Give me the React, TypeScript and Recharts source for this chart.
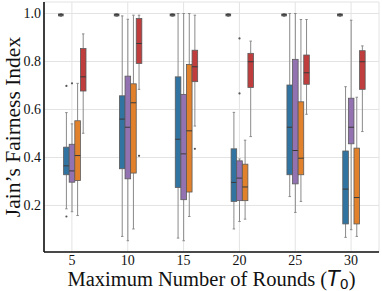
import React from 'react';
import { ComposedChart, Bar, XAxis, YAxis, CartesianGrid } from 'recharts';

const categories = ['5', '10', '15', '20', '25', '30'];
const yTicks = [0.2, 0.4, 0.6, 0.8, 1.0];

// [lower whisker, Q1, median, Q3, upper whisker]
const grayStats = [
  [0.988, 0.99, 0.995, 0.998, 1.0],
  [0.988, 0.99, 0.995, 0.998, 1.0],
  [0.988, 0.99, 0.995, 0.998, 1.0],
  [0.988, 0.99, 0.995, 0.998, 1.0],
  [0.988, 0.99, 0.995, 0.998, 1.0],
  [0.988, 0.99, 0.995, 0.998, 1.0],
];
const blueStats = [
  [0.186, 0.328, 0.365, 0.443, 0.587],
  [0.071, 0.353, 0.56, 0.657, 0.99],
  [0.064, 0.275, 0.476, 0.736, 1.0],
  [0.102, 0.217, 0.296, 0.436, 0.588],
  [0.237, 0.328, 0.526, 0.702, 1.0],
  [0.067, 0.123, 0.268, 0.427, 0.695],
];
const purpleStats = [
  [0.174, 0.297, 0.344, 0.455, 0.54],
  [0.053, 0.311, 0.526, 0.739, 0.976],
  [0.053, 0.224, 0.415, 0.663, 1.0],
  [0.133, 0.22, 0.314, 0.386, 0.394],
  [0.171, 0.29, 0.429, 0.809, 1.0],
  [0.099, 0.457, 0.526, 0.647, 0.972],
];
const orangeStats = [
  [0.158, 0.304, 0.408, 0.553, 0.709],
  [0.102, 0.335, 0.628, 0.707, 0.993],
  [0.154, 0.256, 0.511, 0.788, 1.0],
  [0.143, 0.22, 0.277, 0.372, 0.472],
  [0.217, 0.328, 0.397, 0.632, 0.975],
  [0.071, 0.123, 0.233, 0.439, 0.651],
];
const redStats = [
  [0.501, 0.677, 0.736, 0.854, 0.915],
  [0.684, 0.792, 0.875, 0.979, 0.993],
  [0.531, 0.716, 0.778, 0.847, 0.993],
  [0.487, 0.692, 0.799, 0.834, 0.885],
  [0.58, 0.705, 0.753, 0.827, 0.975],
  [0.508, 0.684, 0.799, 0.845, 0.865],
];

const grayOutliers = [[], [], [], [], [], []];
const blueOutliers = [[0.154, 0.698], [], [], [], [], []];
const purpleOutliers = [[0.709], [], [], [0.896, 0.667], [], []];
const orangeOutliers = [[], [], [], [], [], []];
const redOutliers = [[], [0.407], [0.436], [], [], []];

type Series = { key: string; stats: number[][]; outliers: number[][]; fill: string; narrow?: boolean };

const series: Series[] = [
  { key: 'gray', stats: grayStats, outliers: grayOutliers, fill: '#5c5c5c', narrow: true },
  { key: 'blue', stats: blueStats, outliers: blueOutliers, fill: '#3274a1' },
  { key: 'purple', stats: purpleStats, outliers: purpleOutliers, fill: '#9372b2' },
  { key: 'orange', stats: orangeStats, outliers: orangeOutliers, fill: '#e1812c' },
  { key: 'red', stats: redStats, outliers: redOutliers, fill: '#c03d3e' },
];

const data = categories.map((c, i) => {
  const row: any = { cat: c };
  series.forEach((s) => {
    row[s.key] = [s.stats[i][0], s.stats[i][4]];
  });
  return row;
});

const font = 'Liberation Serif, Times New Roman, serif';

function makeShape(s: Series) {
  return (props: any) => {
    const { x, y, width, height, index } = props;
    const [lo, q1, med, q3, hi] = s.stats[index];
    const top = Math.min(y, y + height);
    const bottom = Math.max(y, y + height);
    const py = (v: number) => top + ((bottom - top) * (hi - v)) / (hi - lo);
    const cx = x + width / 2;
    const cap = width * 0.22;
    const wc = '#8a8a8a';
    const bw = s.narrow ? width * 0.85 : width;
    const bx = cx - bw / 2;
    return (
      <g>
        <line x1={cx} x2={cx} y1={py(hi)} y2={py(q3)} stroke={wc} strokeWidth={1} />
        <line x1={cx} x2={cx} y1={py(q1)} y2={py(lo)} stroke={wc} strokeWidth={1} />
        <line x1={cx - cap} x2={cx + cap} y1={py(hi)} y2={py(hi)} stroke={wc} strokeWidth={1} />
        <line x1={cx - cap} x2={cx + cap} y1={py(lo)} y2={py(lo)} stroke={wc} strokeWidth={1} />
        <rect
          x={bx}
          y={py(q3)}
          width={bw}
          height={Math.max(py(q1) - py(q3), 0.5)}
          fill={s.fill}
          stroke="#5a5a5a"
          strokeWidth={0.8}
        />
        <line x1={bx} x2={bx + bw} y1={py(med)} y2={py(med)} stroke="#3a3a3a" strokeWidth={1} />
        {s.outliers[index].map((v, k) => (
          <circle key={k} cx={cx} cy={py(v)} r={1.1} fill="#555" />
        ))}
      </g>
    );
  };
}

const XLabel = (p: any) => {
  const vb = p.viewBox;
  const cx = vb.x + vb.width / 2;
  return (
    <text x={cx} y={286} textAnchor="middle" style={{ fontFamily: font }} fontSize={20.5} fill="#111">
      Maximum Number of Rounds (
      <tspan style={{ fontFamily: 'DejaVu Sans, sans-serif' }} fontStyle="italic">T</tspan>
      <tspan style={{ fontFamily: 'DejaVu Sans, sans-serif' }} fontSize={14} dy={3}>0</tspan>
      <tspan dy={-3}>)</tspan>
    </text>
  );
};

const YLabel = (p: any) => {
  const vb = p.viewBox;
  const cy = vb.y + vb.height / 2;
  return (
    <text
      x={19.5}
      y={cy}
      transform={`rotate(-90, 19.5, ${cy})`}
      textAnchor="middle"
      style={{ fontFamily: font }}
      fontSize={21.5}
      fill="#111"
    >
      Jain’s Fairness Index
    </text>
  );
};

export default function App() {
  const axisLine = { stroke: '#111', strokeWidth: 1.6 };
  return (
    <div style={{ position: 'absolute', left: 0, top: 0 }}>
      <ComposedChart
        width={382}
        height={291}
        data={data}
        margin={{ top: 2, right: 3, left: 0, bottom: 1 }}
        barGap={0}
      >
        <CartesianGrid stroke="#e3e3e3" strokeWidth={1} />
        <XAxis
          dataKey="cat"
          height={38}
          axisLine={axisLine}
          tickLine={false}
          tickSize={0}
          tickMargin={3}
          tick={{ style: { fontFamily: font }, fontSize: 14, fill: '#111' }}
          label={XLabel}
        />
        <XAxis
          xAxisId="top"
          dataKey="cat"
          orientation="top"
          height={0}
          axisLine={axisLine}
          tick={false}
          tickLine={false}
        />
        <YAxis
          type="number"
          domain={[0.006, 1.048]}
          ticks={yTicks}
          allowDataOverflow
          width={44}
          axisLine={axisLine}
          tickLine={false}
          tickSize={0}
          tickMargin={3}
          tickFormatter={(v: number) => v.toFixed(1)}
          tick={{ style: { fontFamily: font }, fontSize: 14, fill: '#111' }}
          label={YLabel}
        />
        <YAxis
          yAxisId="right"
          orientation="right"
          width={0}
          domain={[0, 1]}
          axisLine={axisLine}
          tick={false}
          tickLine={false}
        />
        {series.map((s) => (
          <Bar
            key={s.key}
            dataKey={s.key}
            barSize={5.6}
            isAnimationActive={false}
            shape={makeShape(s)}
          />
        ))}
      </ComposedChart>
    </div>
  );
}
